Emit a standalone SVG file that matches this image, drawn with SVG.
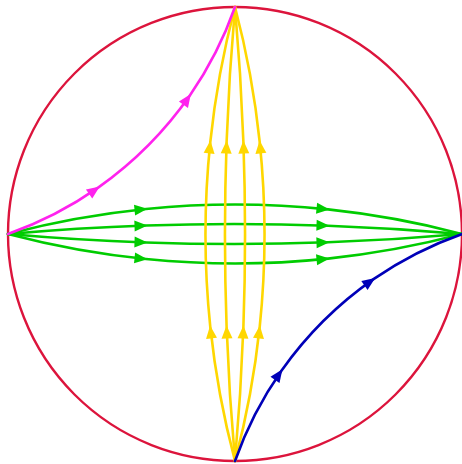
<svg xmlns="http://www.w3.org/2000/svg" width="462" height="464" viewBox="0 0 462 464">
<style>
  .c { fill: none; stroke-width: 2.6; stroke-linecap: round; }
  .g { stroke: #00cc00; marker-mid: url(#aG); }
  .y { stroke: #ffd700; marker-mid: url(#aY); }
  .m { stroke: #ff22ee; marker-mid: url(#aM); }
  .b { stroke: #0000b8; marker-mid: url(#aB); }
</style>
<defs>
  <marker id="aG" markerUnits="userSpaceOnUse" markerWidth="16" markerHeight="14" viewBox="-14 -7 16 14" refX="0" refY="0" orient="auto" overflow="visible"><path d="M1.5,0 L-11.5,-5.5 L-11.5,5.5 z" fill="#00cc00"/></marker>
  <marker id="aY" markerUnits="userSpaceOnUse" markerWidth="16" markerHeight="14" viewBox="-14 -7 16 14" refX="0" refY="0" orient="auto" overflow="visible"><path d="M1.5,0 L-11.5,-5.5 L-11.5,5.5 z" fill="#ffd700"/></marker>
  <marker id="aM" markerUnits="userSpaceOnUse" markerWidth="16" markerHeight="14" viewBox="-14 -7 16 14" refX="0" refY="0" orient="auto" overflow="visible"><path d="M1.5,0 L-11.5,-5.5 L-11.5,5.5 z" fill="#ff22ee"/></marker>
  <marker id="aB" markerUnits="userSpaceOnUse" markerWidth="16" markerHeight="14" viewBox="-14 -7 16 14" refX="0" refY="0" orient="auto" overflow="visible"><path d="M1.5,0 L-11.5,-5.5 L-11.5,5.5 z" fill="#0000b8"/></marker>
</defs>
<rect width="462" height="464" fill="#ffffff"/>
<g id="disk">
  <circle cx="235" cy="234" r="227" fill="none" stroke="#dc143c" stroke-width="2.4"/>
</g>
<g id="connectors">
  <g id="green">
    <path class="c g" d="M8,234 A888.1,888.1 0 0 1 146,209.0 A888.1,888.1 0 0 1 328,209.4 A888.1,888.1 0 0 1 462,234"/>
    <path class="c g" d="M8,234 A2581.5,2581.5 0 0 1 146,225.5 A2581.5,2581.5 0 0 1 328,225.7 A2581.5,2581.5 0 0 1 462,234"/>
    <path class="c g" d="M8,234 A2581.5,2581.5 0 0 0 146,242.5 A2581.5,2581.5 0 0 0 328,242.3 A2581.5,2581.5 0 0 0 462,234"/>
    <path class="c g" d="M8,234 A888.1,888.1 0 0 0 146,259.0 A888.1,888.1 0 0 0 328,258.6 A888.1,888.1 0 0 0 462,234"/>
  </g>
  <g id="yellow">
    <path class="c y" d="M235,461 A888.1,888.1 0 0 1 210.3,327 A888.1,888.1 0 0 1 210.3,142 A888.1,888.1 0 0 1 235,7"/>
    <path class="c y" d="M235,461 A2581.5,2581.5 0 0 1 226.6,327 A2581.5,2581.5 0 0 1 226.6,142 A2581.5,2581.5 0 0 1 235,7"/>
    <path class="c y" d="M235,461 A2581.5,2581.5 0 0 0 243.4,327 A2581.5,2581.5 0 0 0 243.4,142 A2581.5,2581.5 0 0 0 235,7"/>
    <path class="c y" d="M235,461 A888.1,888.1 0 0 0 259.7,327 A888.1,888.1 0 0 0 259.7,142 A888.1,888.1 0 0 0 235,7"/>
  </g>
  <path id="magenta" class="c m" d="M8,234 A375.3,375.3 0 0 0 98.5,187.4 A375.3,375.3 0 0 0 190,95.3 A375.3,375.3 0 0 0 235,7"/>
  <path id="blue" class="c b" d="M235,461 A375.3,375.3 0 0 1 281.6,370.5 A375.3,375.3 0 0 1 373.9,278.9 A375.3,375.3 0 0 1 462,234"/>
</g>
</svg>
